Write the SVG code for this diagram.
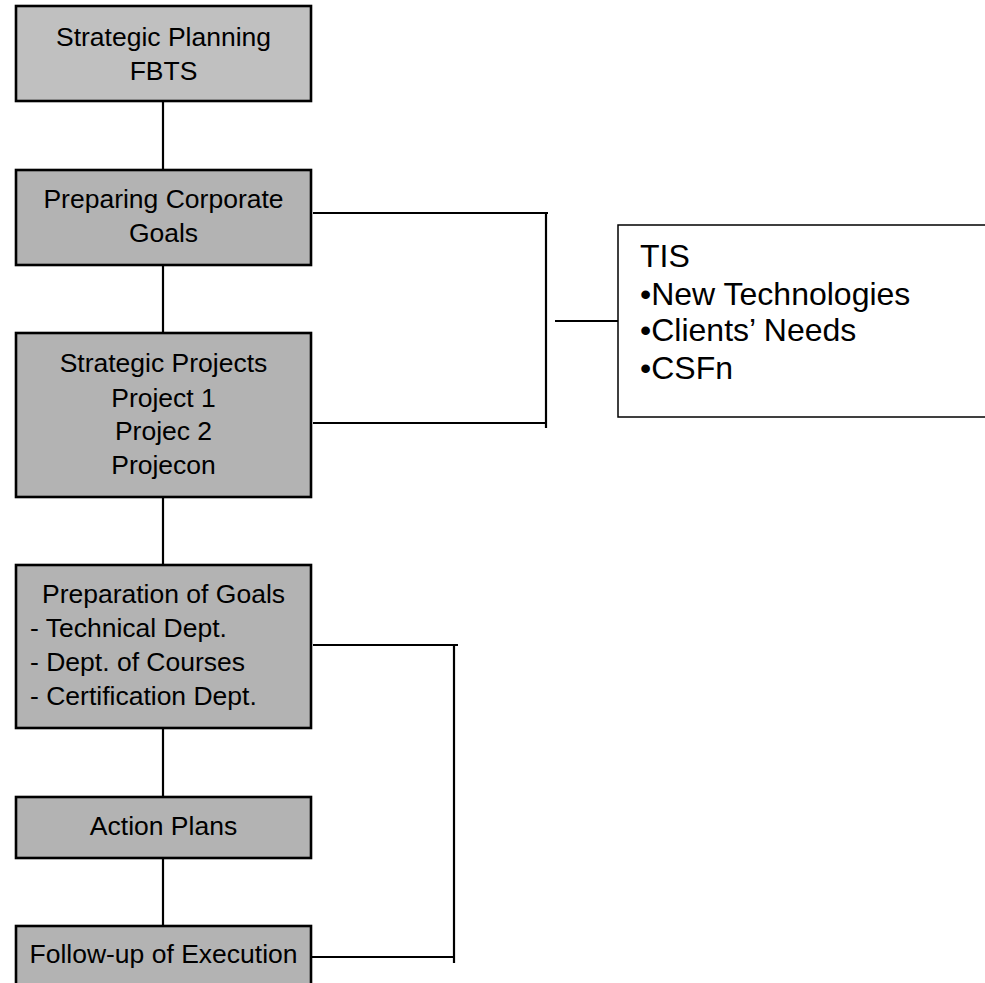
<svg xmlns="http://www.w3.org/2000/svg" width="985" height="983" viewBox="0 0 985 983">
  <style>
    .box { fill: #b3b3b3; stroke: #000; stroke-width: 2.6; }
    .top { fill: #c0c0c0; }
    .note { fill: #fff; stroke: #000; stroke-width: 1.5; }
    .lbl { font-family: "Liberation Sans", Arial, sans-serif; font-size: 26.5px; fill: #000; }
    .c { text-anchor: middle; }
    .big { font-family: "Liberation Sans", Arial, sans-serif; font-size: 32px; fill: #000; }
    .wire { stroke: #000; stroke-width: 2.2; fill: none; }
  </style>
  <rect width="985" height="983" fill="#fff"/>

  <!-- connectors -->
  <g id="connectors">
    <line class="wire" x1="163" y1="101" x2="163" y2="170"/>
    <line class="wire" x1="163" y1="265" x2="163" y2="333"/>
    <line class="wire" x1="163" y1="497" x2="163" y2="565"/>
    <line class="wire" x1="163" y1="728" x2="163" y2="797"/>
    <line class="wire" x1="163" y1="858" x2="163" y2="926"/>
    <!-- bracket joining corporate goals and strategic projects to TIS -->
    <line class="wire" x1="313" y1="213" x2="548" y2="213"/>
    <line class="wire" x1="313" y1="423" x2="547" y2="423"/>
    <line class="wire" x1="546" y1="213" x2="546" y2="428"/>
    <line class="wire" x1="555" y1="321" x2="618" y2="321"/>
    <!-- feedback bracket from follow-up to goals preparation -->
    <line class="wire" x1="313" y1="645" x2="458" y2="645"/>
    <line class="wire" x1="312" y1="957" x2="454" y2="957"/>
    <line class="wire" x1="454" y1="645" x2="454" y2="963"/>
  </g>

  <g id="strategic-planning">
    <rect class="box top" x="16" y="6" width="295" height="95"/>
    <text class="lbl c" x="163.5" y="46">Strategic Planning</text>
    <text class="lbl c" x="163.5" y="80">FBTS</text>
  </g>

  <g id="corporate-goals">
    <rect class="box" x="16" y="170" width="295" height="95"/>
    <text class="lbl c" x="163.5" y="208">Preparing Corporate</text>
    <text class="lbl c" x="163.5" y="242">Goals</text>
  </g>

  <g id="strategic-projects">
    <rect class="box" x="16" y="333" width="295" height="164"/>
    <text class="lbl c" x="163.5" y="372">Strategic Projects</text>
    <text class="lbl c" x="163.5" y="407">Project 1</text>
    <text class="lbl c" x="163.5" y="440">Projec 2</text>
    <text class="lbl c" x="163.5" y="474">Projecon</text>
  </g>

  <g id="goals-preparation">
    <rect class="box" x="16" y="565" width="295" height="163"/>
    <text class="lbl c" x="163.5" y="603">Preparation of Goals</text>
    <text class="lbl" x="30" y="637">- Technical Dept.</text>
    <text class="lbl" x="30" y="671">- Dept. of Courses</text>
    <text class="lbl" x="30" y="705">- Certification Dept.</text>
  </g>

  <g id="action-plans">
    <rect class="box" x="16" y="797" width="295" height="61"/>
    <text class="lbl c" x="163.5" y="835">Action Plans</text>
  </g>

  <g id="follow-up">
    <rect class="box" x="16" y="926" width="295" height="70"/>
    <text class="lbl c" x="163.5" y="963">Follow-up of Execution</text>
  </g>

  <g id="tis">
    <rect class="note" x="618" y="225" width="400" height="192"/>
    <text class="big" x="640" y="267">TIS</text>
    <text class="big" x="640" y="305">•New Technologies</text>
    <text class="big" x="640" y="341">•Clients’ Needs</text>
    <text class="big" x="640" y="379">•CSFn</text>
  </g>
</svg>
